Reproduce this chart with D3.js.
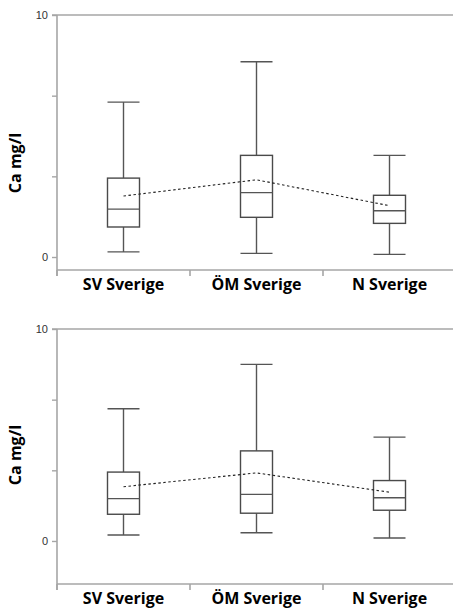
<!DOCTYPE html>
<html lang="sv">
<head>
<meta charset="UTF-8">
<title>Ca mg/l boxplots</title>
<script src="https://d3js.org/d3.v7.min.js"></script>
<style>
    body { margin: 0; background: #fff; }
    .axis-line { stroke: #a6a6a6; stroke-width: 1.6; fill: none; }
    .tick-label { font-family: "Liberation Sans", Arial, sans-serif; font-size: 11px; fill: #333; }
    .cat-label { font-family: "Open Sans", "Noto Sans", sans-serif; font-weight: bold; font-size: 16px; fill: #000; }
    .y-title { font-family: "Open Sans", "Noto Sans", sans-serif; font-weight: bold; font-size: 16px; fill: #000; }
    .box { fill: #fff; stroke: #4a4a4a; stroke-width: 1.4; }
    .whisker { stroke: #555; stroke-width: 1.4; }
    .mean-line { fill: none; stroke: #222; stroke-width: 1.1; stroke-dasharray: 2.5 2.5; }
</style>
</head>
<body>
<div id="chart"></div>
<script>
// categories
var categories = ["SV Sverige", "ÖM Sverige", "N Sverige"];

// upper panel
var topMin    = [0.21, 0.15, 0.11];
var topQ1     = [1.24, 1.64, 1.39];
var topMedian = [1.98, 2.66, 1.91];
var topQ3     = [3.26, 4.20, 2.55];
var topMax    = [6.40, 8.07, 4.20];
var topMean   = [2.52, 3.19, 2.12];

// lower panel
var botMin    = [0.28, 0.39, 0.14];
var botQ1     = [1.26, 1.31, 1.45];
var botMedian = [2.00, 2.20, 2.04];
var botQ3     = [3.25, 4.25, 2.85];
var botMax    = [6.24, 8.33, 4.90];
var botMean   = [2.56, 3.21, 2.30];

// axis
var yTicks = [0, 10 / 3, 20 / 3, 10];
var yTickLabels = ["0", "", "", "10"];
var yTitle = "Ca mg/l";

var W = 453, H = 608;
var svg = d3.select("#chart").append("svg")
    .attr("width", W)
    .attr("height", H);

var x = d3.scaleBand().domain(categories).range([57, 456]).padding(0);
var boxW = 32;

function drawPanel(top, bottom, yMin, mins, q1s, meds, q3s, maxs, means, titleY) {
    var g = svg.append("g");
    var y = d3.scaleLinear().domain([yMin, 10]).range([bottom, top]);

    // frame line at top
    g.append("line").attr("class", "axis-line")
        .attr("x1", 52).attr("x2", W).attr("y1", y(10)).attr("y2", y(10));

    // y axis
    var yAxis = d3.axisLeft(y).tickValues(yTicks).tickSize(5).tickPadding(4)
        .tickFormat(function (d, i) { return yTickLabels[i]; });
    var ya = g.append("g").attr("transform", "translate(57,0)").call(yAxis);
    ya.select(".domain").remove();
    ya.selectAll(".tick line").attr("stroke", "#a6a6a6").attr("stroke-width", 1.4);
    ya.selectAll(".tick text").attr("class", "tick-label").attr("fill", null);
    g.append("line").attr("class", "axis-line")
        .attr("x1", 57).attr("x2", 57).attr("y1", y(10)).attr("y2", bottom + 6);

    // x axis
    g.append("line").attr("class", "axis-line")
        .attr("x1", 57).attr("x2", W).attr("y1", bottom).attr("y2", bottom);
    g.selectAll(".xdiv").data(categories).enter().append("line")
        .attr("class", "axis-line")
        .attr("x1", function (d) { return x(d); })
        .attr("x2", function (d) { return x(d); })
        .attr("y1", bottom).attr("y2", bottom + 6);
    g.selectAll(".cat").data(categories).enter().append("text")
        .attr("class", "cat-label")
        .attr("x", function (d) { return x(d) + x.bandwidth() / 2; })
        .attr("y", bottom + 20)
        .attr("text-anchor", "middle")
        .text(function (d) { return d; });

    // y title
    g.append("text").attr("class", "y-title")
        .attr("transform", "translate(21," + titleY + ") rotate(-90)")
        .attr("text-anchor", "middle")
        .text(yTitle);

    categories.forEach(function (c, i) {
        var cx = x(c) + x.bandwidth() / 2;
        var b = g.append("g");
        // whiskers
        b.append("line").attr("class", "whisker")
            .attr("x1", cx).attr("x2", cx).attr("y1", y(maxs[i])).attr("y2", y(q3s[i]));
        b.append("line").attr("class", "whisker")
            .attr("x1", cx).attr("x2", cx).attr("y1", y(q1s[i])).attr("y2", y(mins[i]));
        b.append("line").attr("class", "whisker")
            .attr("x1", cx - boxW / 2).attr("x2", cx + boxW / 2).attr("y1", y(maxs[i])).attr("y2", y(maxs[i]));
        b.append("line").attr("class", "whisker")
            .attr("x1", cx - boxW / 2).attr("x2", cx + boxW / 2).attr("y1", y(mins[i])).attr("y2", y(mins[i]));
        // box
        b.append("rect").attr("class", "box")
            .attr("x", cx - boxW / 2).attr("width", boxW)
            .attr("y", y(q3s[i])).attr("height", y(q1s[i]) - y(q3s[i]));
        b.append("line").attr("class", "whisker")
            .attr("x1", cx - boxW / 2).attr("x2", cx + boxW / 2).attr("y1", y(meds[i])).attr("y2", y(meds[i]));
    });

    // mean line
    var line = d3.line()
        .x(function (d, i) { return x(categories[i]) + x.bandwidth() / 2; })
        .y(function (d) { return y(d); });
    g.append("path").attr("class", "mean-line").attr("d", line(means));
}

drawPanel(15, 270, -0.537, topMin, topQ1, topMedian, topQ3, topMax, topMean, 163);
drawPanel(329, 584, -2.03, botMin, botQ1, botMedian, botQ3, botMax, botMean, 455);
</script>
</body>
</html>
